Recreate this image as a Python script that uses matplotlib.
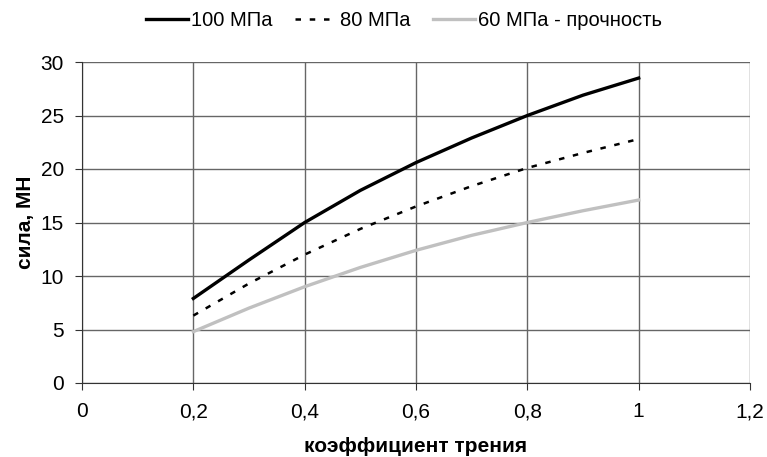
import numpy as np
import matplotlib.pyplot as plt

plt.rcParams['font.family'] = ['Liberation Sans', 'DejaVu Sans']

# friction coefficient
mu = [0.2, 0.3, 0.4, 0.5, 0.6, 0.7, 0.8, 0.9, 1.0]
f100 = [7.9, 11.5, 15.0, 18.0, 20.6, 22.9, 25.0, 26.9, 28.5]
f80 = [6.3, 9.3, 12.0, 14.4, 16.5, 18.4, 20.1, 21.5, 22.8]
f60 = [4.8, 7.0, 9.0, 10.8, 12.4, 13.8, 15.0, 16.1, 17.1]

xticks = [0, 0.2, 0.4, 0.6, 0.8, 1.0, 1.2]
xlabels = ['0', '0,2', '0,4', '0,6', '0,8', '1', '1,2']
yticks = [0, 5, 10, 15, 20, 25, 30]

fig = plt.figure(figsize=(7.67, 4.57), dpi=100)
ax = fig.add_axes([82 / 767, 1 - 383 / 457, (750 - 82) / 767, (383 - 62) / 457])

ax.plot(mu, f100, color='black', lw=2.4, label='100 МПа')
ax.plot(mu, f80, color='black', lw=1.8, ls=(0, (2.2, 3.5)), label='80 МПа')
ax.plot(mu, f60, color='#c0c0c0', lw=2.4, label='60 МПа - прочность')

ax.set_xlim(0, 1.2)
ax.set_ylim(0, 30)
ax.set_xticks(xticks)
ax.set_xticklabels(xlabels)
ax.set_yticks(yticks)
ax.grid(True, color='#666666', lw=1.0)
for s in ['top', 'right']:
    ax.spines[s].set_visible(False)
for s in ['left', 'bottom']:
    ax.spines[s].set_color('#333333')
ax.tick_params(labelsize=15, direction='out', length=5, color='#333333')
ax.tick_params(axis='y', pad=8)
ax.tick_params(axis='x', pad=9)

ax.set_xlabel('коэффициент трения', fontsize=15, fontweight='bold', labelpad=11)
ax.set_ylabel('сила, МН', fontsize=15, fontweight='bold', labelpad=4)

fig.legend(loc='upper center', bbox_to_anchor=(0.527, 1.015), ncol=3, frameon=False,
           fontsize=14.5, handlelength=2.1, handletextpad=0.15, columnspacing=1.1)

fig.savefig('out.png', dpi=100)
